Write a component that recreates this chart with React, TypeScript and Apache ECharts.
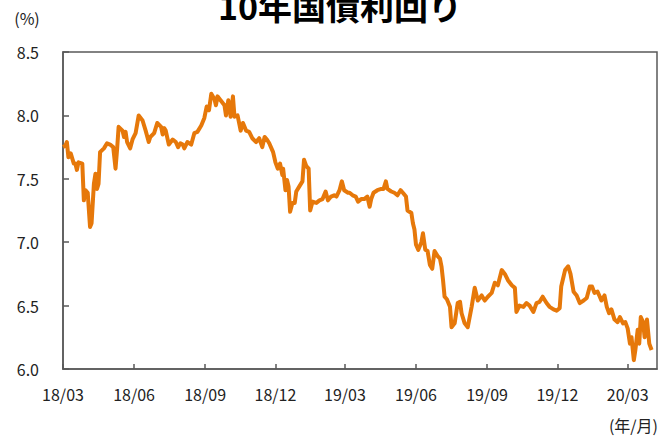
import React, { useEffect, useRef } from "react";
import * as echarts from "echarts";

const titleText = "10年国債利回り";
const yUnit = "(%)";
const xUnit = "(年/月)";
const tickMonths = ["2018-03", "2018-06", "2018-09", "2018-12", "2019-03", "2019-06", "2019-09", "2019-12", "2020-03"];

const dates = [
  "2018-03-01","2018-03-04","2018-03-06","2018-03-08","2018-03-11","2018-03-15","2018-03-17","2018-03-19","2018-03-21","2018-03-26","2018-03-28","2018-03-30",
  "2018-04-02","2018-04-05","2018-04-07","2018-04-10","2018-04-12","2018-04-14","2018-04-16","2018-04-18","2018-04-23","2018-04-27",
  "2018-05-01","2018-05-05","2018-05-08","2018-05-10","2018-05-12","2018-05-17","2018-05-19","2018-05-21","2018-05-23","2018-05-27","2018-05-30",
  "2018-06-03","2018-06-07","2018-06-12","2018-06-16","2018-06-20","2018-06-22","2018-06-27",
  "2018-07-01","2018-07-06","2018-07-08","2018-07-10","2018-07-12","2018-07-16","2018-07-21","2018-07-25","2018-07-28","2018-07-31",
  "2018-08-03","2018-08-05","2018-08-09","2018-08-14","2018-08-18","2018-08-22","2018-08-27","2018-08-31",
  "2018-09-03","2018-09-06","2018-09-09","2018-09-13","2018-09-15","2018-09-17","2018-09-21","2018-09-26","2018-09-28",
  "2018-10-01","2018-10-04","2018-10-07","2018-10-09","2018-10-13","2018-10-17","2018-10-20","2018-10-24","2018-10-28",
  "2018-11-01","2018-11-06","2018-11-10","2018-11-14","2018-11-17","2018-11-20","2018-11-23","2018-11-28",
  "2018-12-01","2018-12-04","2018-12-07","2018-12-10","2018-12-11","2018-12-14","2018-12-16","2018-12-18","2018-12-20","2018-12-23","2018-12-26","2018-12-28",
  "2019-01-01","2019-01-05","2019-01-07","2019-01-10","2019-01-13","2019-01-15","2019-01-18","2019-01-23","2019-01-27","2019-01-31",
  "2019-02-04","2019-02-07","2019-02-11","2019-02-15","2019-02-18","2019-02-22","2019-02-25","2019-02-28",
  "2019-03-05","2019-03-07","2019-03-11","2019-03-15","2019-03-18","2019-03-22","2019-03-26","2019-03-30",
  "2019-04-02","2019-04-04","2019-04-07","2019-04-12","2019-04-17","2019-04-20","2019-04-23","2019-04-25","2019-04-30",
  "2019-05-04","2019-05-08","2019-05-12","2019-05-15","2019-05-19","2019-05-21","2019-05-26","2019-05-28","2019-05-30",
  "2019-06-01","2019-06-04","2019-06-08","2019-06-10","2019-06-13","2019-06-16","2019-06-19","2019-06-22","2019-06-25","2019-06-29",
  "2019-07-02","2019-07-04","2019-07-06","2019-07-08","2019-07-11","2019-07-15","2019-07-17","2019-07-21","2019-07-25","2019-07-28","2019-07-30",
  "2019-08-03","2019-08-07","2019-08-12","2019-08-16","2019-08-20","2019-08-25","2019-08-29",
  "2019-09-02","2019-09-07","2019-09-11","2019-09-15","2019-09-20","2019-09-24","2019-09-28",
  "2019-10-03","2019-10-07","2019-10-09","2019-10-13","2019-10-18","2019-10-22","2019-10-26","2019-10-31",
  "2019-11-04","2019-11-08","2019-11-12","2019-11-17","2019-11-21","2019-11-26","2019-11-30",
  "2019-12-04","2019-12-06","2019-12-11","2019-12-15","2019-12-18","2019-12-22","2019-12-26","2019-12-30",
  "2020-01-04","2020-01-08","2020-01-12","2020-01-15","2020-01-18","2020-01-22","2020-01-25","2020-01-27","2020-01-31",
  "2020-02-03","2020-02-06","2020-02-09","2020-02-13","2020-02-17","2020-02-20","2020-02-24","2020-02-27",
  "2020-03-01","2020-03-04","2020-03-06","2020-03-09","2020-03-11","2020-03-14","2020-03-16","2020-03-18","2020-03-21","2020-03-23","2020-03-26","2020-03-29","2020-04-01"
];

const yields = [
  7.75,7.76,7.79,7.67,7.70,7.62,7.62,7.57,7.63,7.62,7.33,7.41,
  7.39,7.12,7.15,7.46,7.54,7.42,7.46,7.71,7.74,7.78,
  7.77,7.75,7.58,7.73,7.91,7.88,7.83,7.87,7.79,7.74,7.81,
  7.86,8.00,7.96,7.88,7.79,7.83,7.86,
  7.94,7.91,7.85,7.90,7.88,7.77,7.81,7.79,7.75,7.78,
  7.77,7.74,7.79,7.77,7.86,7.87,7.92,7.98,
  8.07,8.04,8.17,8.13,8.08,8.15,8.12,8.08,8.00,
  8.12,7.99,8.15,7.99,8.00,7.88,7.94,7.88,7.87,
  7.82,7.79,7.82,7.75,7.83,7.81,7.78,7.71,
  7.63,7.58,7.62,7.53,7.58,7.41,7.49,7.44,7.24,7.31,7.31,7.40,
  7.44,7.48,7.65,7.60,7.58,7.25,7.32,7.31,7.33,7.34,
  7.40,7.33,7.36,7.37,7.36,7.41,7.48,7.41,
  7.39,7.39,7.37,7.36,7.32,7.34,7.34,7.36,
  7.28,7.34,7.39,7.41,7.42,7.42,7.48,7.42,7.40,
  7.39,7.37,7.41,7.39,7.36,7.25,7.23,7.15,7.10,
  6.98,6.94,7.00,7.07,6.94,6.93,6.82,6.79,6.93,6.89,
  6.87,6.81,6.70,6.57,6.55,6.49,6.33,6.36,6.52,6.53,6.44,
  6.36,6.33,6.49,6.64,6.54,6.58,6.54,
  6.57,6.60,6.68,6.66,6.78,6.75,6.70,
  6.66,6.64,6.45,6.50,6.49,6.52,6.50,6.45,
  6.52,6.53,6.57,6.52,6.49,6.47,6.46,
  6.48,6.65,6.78,6.81,6.75,6.61,6.58,6.52,
  6.54,6.56,6.65,6.65,6.60,6.61,6.57,6.54,6.58,
  6.49,6.44,6.47,6.39,6.37,6.41,6.36,6.37,
  6.32,6.20,6.25,6.07,6.15,6.31,6.20,6.41,6.37,6.25,6.39,6.20,6.15
];

const toTs = (s: string) => {
  const p = s.split("-").map(Number);
  return new Date(p[0], p[1] - 1, p[2] || 1).getTime();
};

export default function App() {
  const ref = useRef<HTMLDivElement>(null);
  useEffect(() => {
    if (!ref.current) return;
    const chart = echarts.init(ref.current, null, { renderer: "svg" });
    const font = '"Noto Sans CJK JP", "Noto Sans", sans-serif';
    const tickVals = tickMonths.map(toTs);
    chart.setOption({
      animation: false,
      textStyle: { fontFamily: font },
      grid: { left: 63, right: 9, top: 52, bottom: 68, show: true, borderColor: "#595959", borderWidth: 1.5, backgroundColor: "transparent" },
      xAxis: {
        type: "value",
        min: toTs("2018-03-01"),
        max: toTs("2020-04-08"),
        scale: true,
        splitLine: { show: false },
        axisLine: { lineStyle: { color: "#595959", width: 1.5 } },
        axisTick: { show: true, inside: true, length: 5, lineStyle: { color: "#595959", width: 1.5 }, customValues: tickVals },
        axisLabel: {
          customValues: tickVals,
          margin: 17,
          fontSize: 16,
          color: "#222",
          fontFamily: font,
          showMinLabel: true,
          showMaxLabel: true,
          formatter: (v: number) => {
            const d = new Date(v);
            const yy = String(d.getFullYear() % 100).padStart(2, "0");
            const mm = String(d.getMonth() + 1).padStart(2, "0");
            return yy + "/" + mm;
          },
        },
      },
      yAxis: {
        type: "value",
        min: 6,
        max: 8.5,
        interval: 0.5,
        splitLine: { show: false },
        axisLine: { show: true, lineStyle: { color: "#595959", width: 1.5 } },
        axisTick: { show: true, inside: true, length: 6, lineStyle: { color: "#595959", width: 1.5 } },
        axisLabel: { margin: 24, fontSize: 16, color: "#222", fontFamily: font, formatter: (v: number) => v.toFixed(1) },
      },
      graphic: [
        { type: "text", x: 340, y: 22, style: { text: titleText, font: 'bold 34px "Noto Sans CJK JP"', fill: "#000", textAlign: "center", textVerticalAlign: "bottom" } },
        { type: "text", x: 27, y: 18, style: { text: yUnit, font: '16px "Noto Sans CJK JP"', fill: "#222", textAlign: "center", textVerticalAlign: "middle" } },
        { type: "text", x: 658, y: 425, style: { text: xUnit, font: '16px "Noto Sans CJK JP"', fill: "#222", textAlign: "right", textVerticalAlign: "middle" } },
      ],
      series: [
        {
          type: "line",
          data: dates.map((d, i) => [toTs(d), yields[i]]),
          showSymbol: false,
          lineStyle: { color: "#E6780A", width: 4, join: "round" },
          itemStyle: { color: "#E6780A" },
        },
      ],
    });
    return () => chart.dispose();
  }, []);
  return <div ref={ref} style={{ width: 666, height: 437, position: "absolute", left: 0, top: 0 }} />;
}
